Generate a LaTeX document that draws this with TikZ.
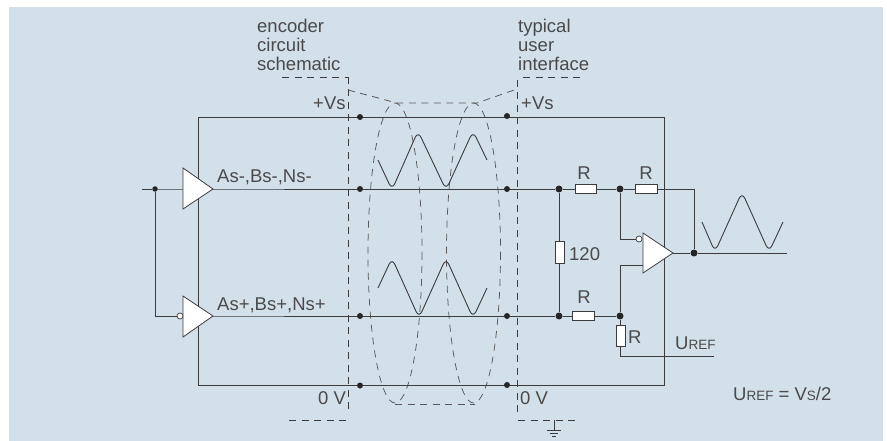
\documentclass[tikz,border=0pt]{standalone}
\usepackage{fontspec}
\setmainfont{Liberation Sans}
\definecolor{panel}{HTML}{D2E0E9}
\definecolor{ink}{HTML}{3C3C3C}
\definecolor{txt}{HTML}{4A4A4A}
\newcommand{\smtxt}[1]{{\fontsize{13.5}{14}\selectfont #1}}
\tikzset{
  wire/.style={draw=ink,line width=0.95pt},
  wave/.style={draw=ink,line width=0.9pt,rounded corners=7pt},
  dline/.style={draw=ink,line width=0.8pt,dash pattern=on 7pt off 5.5pt},
  cable/.style={draw=ink!85,line width=0.75pt,dash pattern=on 7pt off 6pt},
  dot/.style={circle,fill=black!85,draw=none,minimum size=6pt,inner sep=0pt},
  bigdot/.style={circle,fill=black!85,draw=none,minimum size=7pt,inner sep=0pt},
  bubble/.style={circle,fill=white,draw=ink,line width=0.7pt,minimum size=6pt,inner sep=0pt},
  resh/.style={rectangle,fill=white,draw=ink,line width=0.8pt,minimum width=21.5pt,minimum height=9pt,inner sep=0pt},
  resv/.style={rectangle,fill=white,draw=ink,line width=0.8pt,minimum width=9pt,minimum height=21.5pt,inner sep=0pt},
  amp/.style={fill=white,draw=ink,line width=0.8pt,line join=miter},
  lab/.style={anchor=base west,inner sep=0pt,text=txt,font=\fontsize{18.5}{19}\selectfont},
  labc/.style={anchor=base,inner sep=0pt,text=txt,font=\fontsize{18.5}{19}\selectfont},
}
\begin{document}
\begin{tikzpicture}[x=1pt,y=-1pt]
\useasboundingbox (0,0) rectangle (887,441);
\fill[panel] (9,7) rectangle (883,441);

% named points
\coordinate (inL) at (142,189);
\coordinate (TL) at (198,117);
\coordinate (TR) at (664,117);
\coordinate (BL) at (198,385);
\coordinate (BR) at (664,385);
\coordinate (a1) at (183,168);
\coordinate (a2) at (183,209);
\coordinate (a3) at (213,189);
\coordinate (b1) at (183,296);
\coordinate (b2) at (183,337);
\coordinate (b3) at (213,316);
\coordinate (c1) at (643,233);
\coordinate (c2) at (643,273);
\coordinate (c3) at (673,253);
\coordinate (outE) at (787,253);
\coordinate (refE) at (714,356);
\coordinate (refC) at (620,356);
\coordinate (fbC) at (694,189);
\coordinate (lowC) at (155,316);
\coordinate (ampM) at (620,239);
\coordinate (ampP) at (620,265);
\coordinate (ampPin) at (643,265);

% cable screen
\coordinate (e1) at (348,90);
\coordinate (e2) at (397,103);
\coordinate (e3) at (477,103);
\coordinate (e4) at (517,89);
\coordinate (e5) at (395,404);
\coordinate (e6) at (475,404);
\draw[dline,draw=ink!85] (e1) -- (e2) -- (e3) -- (e4);
\draw[dline,draw=ink!85] (e5) -- (e6);
\draw[cable] (395,253) ellipse [x radius=27,y radius=150];
\draw[cable] (473.5,253) ellipse [x radius=27,y radius=150];

% separators
\coordinate (s1) at (282,77);
\coordinate (s2) at (348,77);
\coordinate (s3) at (348,412);
\coordinate (s4) at (289,420);
\coordinate (s5) at (348,420);
\coordinate (u1) at (583,77);
\coordinate (u2) at (523,77);
\coordinate (u3) at (517,80);
\coordinate (u4) at (517,413);
\coordinate (u5) at (518,420);
\coordinate (u6) at (578,420);
\draw[dline] (s1) -- (s2);
\draw[dline] (s2) -- (s3);
\draw[dline] (s4) -- (s5);
\draw[dline] (u2) -- (u1);
\draw[dline] (u3) -- (u4);
\draw[dline] (u5) -- (u6);
% ground
\coordinate (g0) at (554,420);
\coordinate (g1) at (554,430);
\draw[wire,line width=0.8pt] (g0) -- (g1);
\draw[wire,line width=0.8pt] (547,430) -- (561,430);
\draw[wire,line width=0.8pt] (550,433) -- (558,433);
\draw[wire,line width=0.8pt] (552,436) -- (556,436);

% rails
\draw[wire] (BL) -- (TL) -- (TR) -- (BR) -- cycle;

% junctions
\node[dot] (d1) at (360,117) {};
\node[dot] (d2) at (360,189) {};
\node[dot] (d3) at (360,316) {};
\node[dot] (d4) at (360,385.5) {};
\node[dot] (d5) at (507,116) {};
\node[dot] (d6) at (507,189) {};
\node[dot] (d7) at (507,316) {};
\node[dot] (d8) at (507,385) {};
\node[dot,minimum size=5.5pt] (j0) at (155,189) {};
\node[bigdot] (j1) at (559,189) {};
\node[bigdot] (j2) at (620,189) {};
\node[bigdot] (j3) at (559,316) {};
\node[bigdot] (j4) at (620,316) {};
\node[bigdot] (j5) at (694,253) {};

% signals
\draw[wire] (inL) -- (j0) -- (a3) -- (d2) -- (d6) -- (j1) -- (j2) -- (fbC) -- (j5);
\draw[wire] (j0) -- (lowC) -- (b3) -- (d3) -- (d7) -- (j3) -- (j4);
\draw[wire] (c3) -- (j5) -- (outE);
\draw[wire] (j1) -- (j3);
\draw[wire] (j2) -- (ampM) -- (639,239);
\draw[wire] (j4) -- (ampP) -- (ampPin);
\draw[wire] (j4) -- (refC) -- (refE);

% resistors
\node[resh] (r1) at (586,188.5) {};
\node[resh] (r2) at (646.5,188.5) {};
\node[resv] (r120) at (559.5,252.5) {};
\node[resh] (r3) at (583.5,315.5) {};
\node[resv] (r4) at (620.5,336) {};

% amplifiers
\draw[amp] (a1) -- (a3) -- (a2) -- cycle;
\draw[amp] (b1) -- (b3) -- (b2) -- cycle;
\draw[amp] (c1) -- (c3) -- (c2) -- cycle;
\node[bubble] (bb) at (180,316) {};
\node[bubble] (bc) at (639,239) {};

% waveforms
\draw[wave] (378,160) -- (392,190) -- (418,131) -- (446,190) -- (473,131) -- (487,160);
\draw[wave] (378,288) -- (392,258) -- (419,318) -- (446,258) -- (473,318) -- (487,288);
\draw[wave] (702,222) -- (715,252) -- (742,192) -- (769,252) -- (783,222);

% labels
\node[lab] (t1) at (257,33) {encoder};
\node[lab] (t2) at (257,52) {circuit};
\node[lab] (t3) at (257,71) {schematic};
\node[lab] (t4) at (518,33) {typical};
\node[lab] (t5) at (518,52) {user};
\node[lab] (t6) at (518,71) {interface};
\node[lab] (t7) at (313,110) {+Vs};
\node[lab] (t8) at (521,110) {+Vs};
\node[lab] (t9) at (217,183) {As-,Bs-,Ns-};
\node[lab] (t10) at (217,310) {As+,Bs+,Ns+};
\node[labc] (t11) at (584,180) {R};
\node[labc] (t12) at (646,180) {R};
\node[lab] (t13) at (569,260) {120};
\node[labc] (t14) at (584,303) {R};
\node[lab] (t15) at (628,343) {R};
\node[lab] (t16) at (675,349) {U\smtxt{REF}};
\node[lab] (t17) at (318,404) {0 V};
\node[lab] (t18) at (520,404) {0 V};
\node[lab] (t19) at (733,400) {U\smtxt{REF} = V\smtxt{S}/2};
\end{tikzpicture}
\end{document}
